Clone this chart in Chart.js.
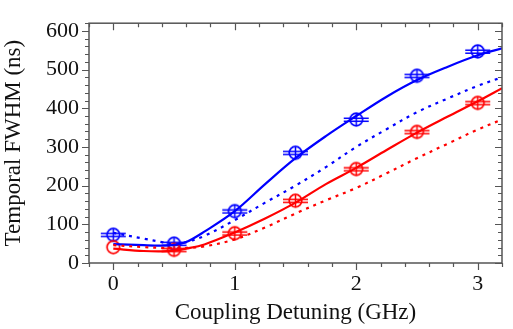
<!DOCTYPE html>
<html>
<head>
<meta charset="utf-8">
<script src="https://cdn.jsdelivr.net/npm/chart.js@4"></script>
<style>
  html, body { margin: 0; padding: 0; background: #fff; }
  #wrap { width: 513px; height: 329px; }
</style>
</head>
<body>
<div id="wrap"><canvas id="chart" width="513" height="329"></canvas></div>
<script>
// measured points (GHz -> ns)
const detuning = [0, 0.5, 1, 1.5, 2, 2.5, 3];
const blueMeasured = [73, 50, 134, 285, 371, 484, 547];
const redMeasured = [41, 34, 77, 161, 243, 339, 414];

// model curves
const curveX = [0, 0.25, 0.4, 0.5, 0.6, 0.75, 1, 1.25, 1.5, 1.75, 2, 2.25, 2.5, 2.75, 3, 3.2];
const blueSolid = [49, 46, 45, 47, 54, 81, 134, 204, 271, 328, 380, 430, 473, 507, 537, 555];
const blueDotted = [78, 63, 54, 48, 54, 70, 111, 156, 200, 248, 300, 346, 390, 425, 458, 480];
const redSolid = [37, 31, 30, 32, 37, 48, 79, 115, 156, 204, 246, 292, 337, 378, 418, 452];
const redDotted = [46, 41, 39, 38, 39, 43, 61, 92, 128, 162, 194, 232, 271, 308, 345, 371];

const xTicks = [0, 1, 2, 3];
const yTicks = [0, 100, 200, 300, 400, 500, 600];

const BLUE = '#0000ff';
const RED = '#ff0000';
const FRAME = '#555555';
const FONT = "'Liberation Serif', 'DejaVu Serif', serif";

function makeMarker(color, cross) {
    const c = document.createElement('canvas');
    c.width = 29;
    c.height = 17;
    const g = c.getContext('2d');
    g.strokeStyle = color;
    g.lineWidth = 1.7;
    g.beginPath();
    g.arc(14.5, 8.5, 6.3, 0, Math.PI * 2);
    g.stroke();
    if (cross) {
        g.lineWidth = 1.5;
        g.beginPath();
        g.moveTo(14.5, 2); g.lineTo(14.5, 15);
        g.moveTo(2, 7.3); g.lineTo(27, 7.3);
        g.moveTo(2, 10.3); g.lineTo(27, 10.3);
        g.stroke();
    }
    return c;
}

const blueMark = makeMarker(BLUE, true);
const redMark = makeMarker(RED, true);
const redMarkPlain = makeMarker(RED, false);

function pts(xs, ys) {
    return xs.map((x, i) => ({ x: x, y: ys[i] }));
}

// frame with ticks: outward on bottom/left, inward on top/right
const framePlugin = {
    id: 'frame',
    afterDraw(chart) {
        const { ctx, chartArea: a, scales } = chart;
        const xs = scales.x, ys = scales.y;
        ctx.save();
        ctx.strokeStyle = FRAME;
        ctx.lineWidth = 1.5;
        ctx.strokeRect(a.left, a.top, a.right - a.left, a.bottom - a.top);
        ctx.lineWidth = 1.2;
        ctx.beginPath();
        for (let v = -0.2; v <= 3.21; v += 0.2) {
            const major = Math.abs(v - Math.round(v)) < 1e-6;
            const len = major ? 7 : 4;
            const px = Math.round(xs.getPixelForValue(v)) + 0.5;
            ctx.moveTo(px, a.bottom); ctx.lineTo(px, a.bottom + len);
            ctx.moveTo(px, a.top); ctx.lineTo(px, a.top + len);
        }
        for (let v = 0; v <= 620; v += 20) {
            const major = v % 100 === 0;
            const len = major ? 7 : 4;
            const py = Math.round(ys.getPixelForValue(v)) + 0.5;
            ctx.moveTo(a.left, py); ctx.lineTo(a.left - len, py);
            ctx.moveTo(a.right, py); ctx.lineTo(a.right - len, py);
        }
        ctx.stroke();
        ctx.restore();
    }
};

const lineDefaults = { showLine: true, pointRadius: 0, borderWidth: 2.2, tension: 0.35, fill: false };

new Chart(document.getElementById('chart'), {
    type: 'scatter',
    data: {
        datasets: [
            Object.assign({ data: pts(curveX, redDotted), borderColor: RED, borderDash: [3, 5] }, lineDefaults),
            Object.assign({ data: pts(curveX, blueDotted), borderColor: BLUE, borderDash: [3, 5] }, lineDefaults),
            Object.assign({ data: pts(curveX, redSolid), borderColor: RED }, lineDefaults),
            Object.assign({ data: pts(curveX, blueSolid), borderColor: BLUE }, lineDefaults),
            {
                data: pts(detuning, redMeasured),
                showLine: false,
                pointStyle: detuning.map((d, i) => i === 0 ? redMarkPlain : redMark),
                pointRadius: 7
            },
            {
                data: pts(detuning, blueMeasured),
                showLine: false,
                pointStyle: blueMark,
                pointRadius: 7
            }
        ]
    },
    options: {
        responsive: false,
        animation: false,
        layout: { padding: { top: 7, right: 11, left: 0, bottom: 0 } },
        plugins: { legend: { display: false }, tooltip: { enabled: false } },
        scales: {
            x: {
                type: 'linear',
                min: -0.2,
                max: 3.2,
                afterBuildTicks: s => { s.ticks = xTicks.map(v => ({ value: v })); },
                afterFit: s => { s.height = 66; },
                grid: { display: false, drawTicks: false },
                border: { display: false },
                ticks: { color: '#111', padding: 8, font: { family: FONT, size: 22 } },
                title: {
                    display: true,
                    text: 'Coupling Detuning (GHz)',
                    color: '#111',
                    padding: { top: 0, bottom: 2 },
                    font: { family: FONT, size: 23 }
                }
            },
            y: {
                min: 0,
                max: 620,
                afterBuildTicks: s => { s.ticks = yTicks.map(v => ({ value: v })); },
                afterFit: s => { s.width = 89; },
                grid: { display: false, drawTicks: false },
                border: { display: false },
                ticks: { color: '#111', padding: 10, font: { family: FONT, size: 22 } },
                title: {
                    display: true,
                    text: 'Temporal FWHM (ns)',
                    color: '#111',
                    padding: { top: 0, bottom: 2 },
                    font: { family: FONT, size: 23 }
                }
            }
        }
    },
    plugins: [framePlugin]
});
</script>
</body>
</html>
